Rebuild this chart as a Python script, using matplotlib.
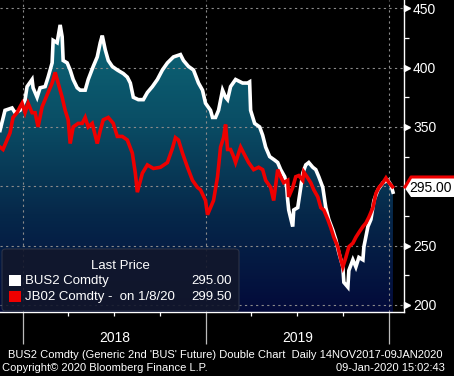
import numpy as np
import pandas as pd
import matplotlib
matplotlib.use('Agg')
import matplotlib.pyplot as plt
import matplotlib.dates as mdates
from matplotlib.colors import LinearSegmentedColormap
from matplotlib.patches import Polygon, FancyBboxPatch, Rectangle

plt.rcParams['font.family'] = ['Liberation Sans', 'DejaVu Sans']

start = pd.Timestamp('2017-11-14')

# days since 14NOV2017
bus2_days = [2, 12, 26, 32, 42, 52, 56, 66, 68, 76, 82, 92, 98, 106, 108, 116, 122, 126, 128, 136,
             142, 148, 156, 162, 172, 178, 188, 196, 202, 206, 212, 218, 226, 236, 248, 256, 262, 268,
             278, 288, 296, 306, 316, 326, 336, 348, 362, 368, 378, 388, 398, 406, 412, 422, 426, 432,
             438, 446, 452, 456, 462, 472, 486, 496, 500, 502, 510, 520, 526, 532, 540, 550, 556, 562,
             570, 574, 576, 578, 586, 588, 596, 602, 606, 612, 618, 626, 632, 638, 646, 652, 658, 666,
             672, 678, 686, 688, 696, 698, 706, 712, 718, 726, 728, 736, 742, 748, 756, 766, 776, 782, 786]
bus2_vals = [347, 364, 366, 362, 364, 373, 384, 390, 383, 375, 383, 384, 392, 404, 423, 421, 436, 426, 406, 404,
             398, 390, 383, 381, 381, 390, 401, 409, 421, 427, 415, 406, 401, 398, 395, 392, 387, 375,
             373, 373, 379, 384, 390, 398, 404, 409, 411, 406, 401, 398, 387, 381, 370, 364, 358, 358,
             364, 381, 375, 373, 384, 390, 387, 387, 388, 364, 353, 350, 343, 333, 325, 322, 320, 314,
             308, 299, 288, 280, 266, 280, 282, 299, 311, 318, 320, 316, 314, 308, 299, 282, 272, 263,
             255, 244, 232, 219, 215, 229, 238, 232, 240, 238, 249, 266, 272, 288, 297, 303, 305, 301, 295]

jb02_days = [2, 8, 16, 22, 28, 36, 42, 46, 52, 58, 66, 72, 78, 86, 92, 98, 106, 112, 118, 126,
             132, 138, 142, 148, 158, 166, 172, 178, 186, 196, 202, 208, 218, 228, 236, 246, 256, 266,
             272, 276, 286, 296, 308, 322, 336, 346, 352, 358, 366, 376, 386, 396, 402, 412, 416, 422,
             428, 436, 442, 448, 452, 456, 462, 468, 472, 482, 488, 498, 508, 518, 526, 532, 542, 548,
             556, 562, 568, 576, 578, 586, 592, 598, 606, 608, 616, 622, 628, 636, 642, 648, 656, 662,
             668, 676, 682, 686, 692, 698, 706, 712, 718, 726, 732, 738, 746, 752, 758, 766, 772, 778, 785]
jb02_vals = [333, 331, 339, 345, 358, 362, 367, 370, 362, 370, 362, 362, 350, 367, 373, 379, 387, 396, 387, 375,
             364, 356, 336, 350, 353, 353, 358, 350, 353, 336, 347, 356, 358, 353, 342, 342, 339, 328,
             311, 295, 311, 318, 315, 316, 320, 332, 341, 339, 328, 316, 305, 299, 297, 288, 276, 282,
             288, 308, 333, 341, 352, 331, 331, 325, 320, 333, 328, 320, 314, 316, 314, 305, 299, 288,
             314, 308, 303, 305, 291, 299, 308, 309, 305, 312, 307, 303, 297, 291, 282, 280, 272, 265,
             257, 249, 238, 232, 240, 249, 252, 257, 261, 266, 269, 274, 282, 294, 299, 303, 307, 303, 299.5]

y_major = [200, 250, 300, 350, 400, 450]
y_minor = [225, 275, 325, 375, 425]
last_bus2 = '295.00'
last_jb02 = '299.50'

W, H = 454, 376
fig = plt.figure(figsize=(W / 100, H / 100), dpi=100, facecolor='black')
ax = fig.add_axes([0, (H - 312) / H, 404 / W, 312 / H])
ax.set_facecolor('black')

def px(x, y):
    return (x / W, 1 - y / H)

bx = mdates.date2num(start + pd.to_timedelta(bus2_days, unit='D'))
jx = mdates.date2num(start + pd.to_timedelta(jb02_days, unit='D'))
by = np.array(bus2_vals, dtype=float)
jy = np.array(jb02_vals, dtype=float)

xmin = mdates.date2num(start + pd.Timedelta(days=2))
xmax = mdates.date2num(start + pd.Timedelta(days=808))
ymin, ymax = 194, 457

# gradient area under BUS2
poly = ax.fill_between(bx, by, ymin, color='none', lw=0)
cmap = LinearSegmentedColormap.from_list('bb', ['#030a3a', '#06284a', '#0a4f66', '#0d6878'])
grad = np.linspace(0, 1, 256).reshape(-1, 1)
im = ax.imshow(grad, extent=[bx[0], bx[-1], ymin, 440], origin='lower', aspect='auto', cmap=cmap, zorder=1)
im.set_clip_path(poly.get_paths()[0], transform=ax.transData)

ax.plot(bx, by, color='white', lw=2.6, zorder=3, solid_joinstyle='miter')
ax.plot(jx, jy, color='#ee0000', lw=2.6, zorder=4, solid_joinstyle='miter')

ax.set_xlim(xmin, xmax)
ax.set_ylim(ymin, ymax)
ax.xaxis_date()
ax.xaxis.set_major_locator(mdates.YearLocator())
ax.xaxis.set_minor_locator(mdates.MonthLocator(bymonth=[4, 7, 10]))
ax.tick_params(axis='x', which='major', length=23, width=0.9, color='#bbbbbb', labelbottom=False)
ax.tick_params(axis='x', which='minor', length=3, width=0.9, color='white')

ax.yaxis.tick_right()
ax.set_yticks(y_major)
ax.set_yticks(y_minor, minor=True)
# the 300 label sits under the last-price tag
ax.set_yticklabels(['' if v == 300 else str(v) for v in y_major])
ax.tick_params(axis='y', which='major', length=0, pad=6.5, labelcolor='white', labelsize=10)
ax.tick_params(axis='y', which='minor', length=3.5, width=0.9, color='white')

ax.grid(True, which='major', color='#8a8a8a', lw=0.8, ls=(0, (2, 3)), zorder=2)

for s in ['left', 'top']:
    ax.spines[s].set_visible(False)
for s in ['right', 'bottom']:
    ax.spines[s].set_color('white')
    ax.spines[s].set_linewidth(1)

# triangle tick marks on the price axis
tri = [v for v in y_major if v != 300]
ax.plot([1 + 3.5 / 404] * len(tri), tri, ls='none', marker='>', ms=4.5, color='white',
        transform=ax.get_yaxis_transform(), clip_on=False, zorder=5)

# year labels
for yr in [2018, 2019]:
    ax.text(mdates.date2num(pd.Timestamp(f'{yr}-07-02')), -26 / 312, str(yr), color='white',
            fontsize=10, ha='center', va='center', transform=ax.get_xaxis_transform())

# last price tag
tag = Polygon([px(404, 187), px(411, 178), px(454, 178), px(454, 197), px(411, 197)],
              closed=True, facecolor='white', edgecolor='none', transform=fig.transFigure, zorder=10)
fig.patches.append(tag)
fig.lines.append(plt.Line2D([px(405, 187)[0], px(411, 177)[0], px(454, 177)[0]],
                            [px(405, 187)[1], px(411, 177)[1], px(454, 177)[1]],
                            color='#ee0000', lw=2.2, transform=fig.transFigure, zorder=11))
fig.text(*px(431, 188), last_bus2, color='black', fontsize=10, ha='center', va='center', zorder=12)

# legend box
lx0, ly0 = px(2, 311)
lx1, ly1 = px(239, 249)
box = FancyBboxPatch((lx0, ly0), lx1 - lx0, ly1 - ly0, boxstyle='round,pad=0,rounding_size=0.008',
                     facecolor=(0.07, 0.09, 0.17, 0.9), edgecolor='#2c3347', lw=0.8,
                     transform=fig.transFigure, zorder=6)
fig.patches.append(box)
fig.text(*px(120, 266), 'Last Price', color='white', fontsize=9.5, ha='center', va='center', zorder=7)
for row, (name, val, col) in enumerate([('BUS2 Comdty', last_bus2, 'white'),
                                        ('JB02 Comdty -  on 1/8/20', last_jb02, '#ee0000')]):
    yc = 281 + row * 16
    sx, sy = px(9, yc + 5)
    fig.patches.append(Rectangle((sx, sy), 12 / W, 11 / H, facecolor=col, edgecolor='none',
                                 transform=fig.transFigure, zorder=7))
    fig.text(*px(25, yc), name, color='white', fontsize=9.5, ha='left', va='center', zorder=7)
    fig.text(*px(232, yc), val, color='white', fontsize=9.5, ha='right', va='center', zorder=7)

# footer
fig.text(*px(8, 355), "BUS2 Comdty (Generic 2nd 'BUS' Future) Double Chart  Daily 14NOV2017-09JAN2020",
         color='white', fontsize=8, ha='left', va='center')
fig.text(*px(2, 368), 'Copyright\u00a9 2020 Bloomberg Finance L.P.', color='white', fontsize=8,
         ha='left', va='center')
fig.text(*px(445, 368), '09-Jan-2020 15:02:43', color='white', fontsize=8, ha='right', va='center')

fig.savefig('out.png', dpi=100, facecolor='black')
